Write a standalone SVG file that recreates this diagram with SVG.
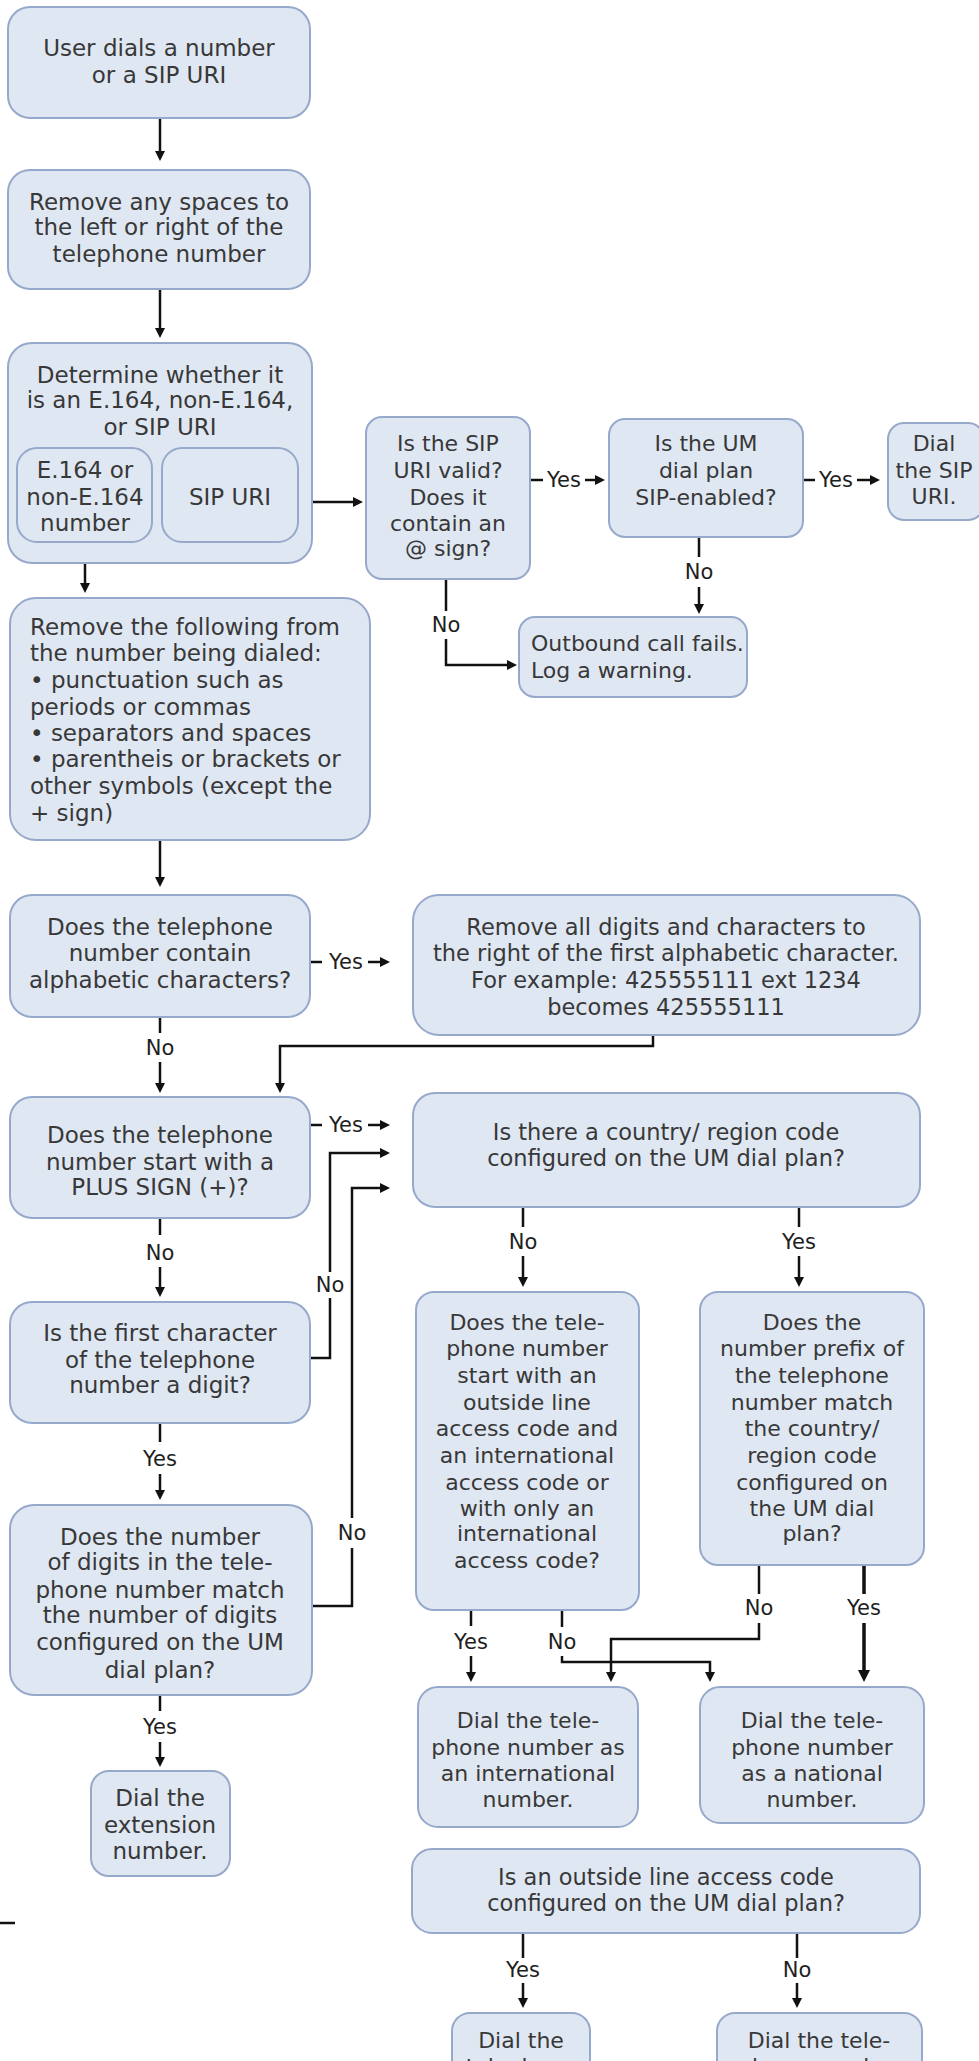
<svg xmlns="http://www.w3.org/2000/svg" width="979" height="2061" viewBox="0 0 979 2061">
  <style>
    .box { fill: #dfe7f3; stroke: #97a9cb; stroke-width: 2; }
    .t { font-family: "DejaVu Sans", Verdana, sans-serif; font-size: 23px; fill: #383838; text-anchor: middle; }
    .r { font-size: 22px; }
    .w { font-size: 22.5px; }
    .lt { text-anchor: start; }
    .lbl { font-family: "DejaVu Sans", Verdana, sans-serif; font-size: 21px; fill: #1e1e1e; text-anchor: middle; }
    .c { fill: none; stroke: #111; stroke-width: 2.5; }
    .cb { fill: none; stroke: #111; stroke-width: 3.5; }
  </style>
  <defs>
    <marker id="ah" viewBox="0 0 10 10" refX="0" refY="5" markerWidth="10" markerHeight="10" markerUnits="userSpaceOnUse" orient="auto">
      <path d="M0,0 L10,5 L0,10 z" fill="#111"/>
    </marker>
    <marker id="ahb" viewBox="0 0 12 12" refX="0" refY="6" markerWidth="12" markerHeight="12" markerUnits="userSpaceOnUse" orient="auto">
      <path d="M0,0 L12,6 L0,12 z" fill="#111"/>
    </marker>
  </defs>
  <rect width="979" height="2061" fill="#ffffff"/>

  <!-- connectors -->
  <g id="connectors">
    <path class="c" d="M160,118 V151" marker-end="url(#ah)"/>
    <path class="c" d="M160,289 V328" marker-end="url(#ah)"/>
    <path class="c" d="M312,502 H353" marker-end="url(#ah)"/>
    <!-- SIP URI valid -> UM dial plan -->
    <path class="c" d="M531,480 H543"/>
    <text class="lbl" x="564" y="487">Yes</text>
    <path class="c" d="M585,480 H595" marker-end="url(#ah)"/>
    <!-- UM dial plan -> dial SIP URI -->
    <path class="c" d="M803,480 H815"/>
    <text class="lbl" x="836" y="487">Yes</text>
    <path class="c" d="M857,480 H870" marker-end="url(#ah)"/>
    <!-- UM dial plan -> call fails -->
    <path class="c" d="M699,537 V557"/>
    <text class="lbl" x="699" y="579">No</text>
    <path class="c" d="M699,587 V604" marker-end="url(#ah)"/>
    <!-- SIP URI invalid -> call fails -->
    <path class="c" d="M446,579 V611"/>
    <text class="lbl" x="446" y="632">No</text>
    <path class="c" d="M446,639 V665 H507" marker-end="url(#ah)"/>
    <!-- number branch -> clean-up -->
    <path class="c" d="M85,542 V583" marker-end="url(#ah)"/>
    <path class="c" d="M160,840 V877" marker-end="url(#ah)"/>
    <!-- alphabetic characters -->
    <path class="c" d="M310,962 H322"/>
    <text class="lbl" x="346" y="969">Yes</text>
    <path class="c" d="M368,962 H380" marker-end="url(#ah)"/>
    <path class="c" d="M653,1035 V1046 H280 V1083" marker-end="url(#ah)"/>
    <path class="c" d="M160,1017 V1033"/>
    <text class="lbl" x="160" y="1055">No</text>
    <path class="c" d="M160,1062 V1083" marker-end="url(#ah)"/>
    <!-- plus sign -->
    <path class="c" d="M310,1125 H322"/>
    <text class="lbl" x="346" y="1132">Yes</text>
    <path class="c" d="M368,1125 H380" marker-end="url(#ah)"/>
    <path class="c" d="M160,1218 V1235"/>
    <text class="lbl" x="160" y="1260">No</text>
    <path class="c" d="M160,1267 V1287" marker-end="url(#ah)"/>
    <!-- first character a digit -->
    <path class="c" d="M310,1358 H330 V1298"/>
    <text class="lbl" x="330" y="1292">No</text>
    <path class="c" d="M330,1272 V1153 H380" marker-end="url(#ah)"/>
    <path class="c" d="M160,1423 V1442"/>
    <text class="lbl" x="160" y="1466">Yes</text>
    <path class="c" d="M160,1474 V1490" marker-end="url(#ah)"/>
    <!-- number of digits -->
    <path class="c" d="M312,1606 H352 V1548"/>
    <text class="lbl" x="352" y="1540">No</text>
    <path class="c" d="M352,1518 V1188 H380" marker-end="url(#ah)"/>
    <path class="c" d="M160,1695 V1711"/>
    <text class="lbl" x="160" y="1734">Yes</text>
    <path class="c" d="M160,1742 V1757" marker-end="url(#ah)"/>
    <!-- country/region code -->
    <path class="c" d="M523,1207 V1227"/>
    <text class="lbl" x="523" y="1249">No</text>
    <path class="c" d="M523,1256 V1277" marker-end="url(#ah)"/>
    <path class="c" d="M799,1207 V1227"/>
    <text class="lbl" x="799" y="1249">Yes</text>
    <path class="c" d="M799,1256 V1277" marker-end="url(#ah)"/>
    <!-- access codes -->
    <path class="c" d="M471,1610 V1626"/>
    <text class="lbl" x="471" y="1649">Yes</text>
    <path class="c" d="M471,1656 V1672" marker-end="url(#ah)"/>
    <path class="c" d="M562,1610 V1627"/>
    <text class="lbl" x="562" y="1649">No</text>
    <path class="c" d="M562,1656 V1662 H710 V1672" marker-end="url(#ah)"/>
    <!-- prefix match -->
    <path class="c" d="M759,1565 V1594"/>
    <text class="lbl" x="759" y="1615">No</text>
    <path class="c" d="M759,1623 V1639 H611 V1672" marker-end="url(#ah)"/>
    <path class="cb" d="M864,1565 V1594"/>
    <text class="lbl" x="864" y="1615">Yes</text>
    <path class="cb" d="M864,1623 V1670" marker-end="url(#ahb)"/>
    <!-- outside line access code -->
    <path class="c" d="M523,1933 V1958"/>
    <text class="lbl" x="523" y="1977">Yes</text>
    <path class="c" d="M523,1983 V1998" marker-end="url(#ah)"/>
    <path class="c" d="M797,1933 V1958"/>
    <text class="lbl" x="797" y="1977">No</text>
    <path class="c" d="M797,1983 V1998" marker-end="url(#ah)"/>
    <path class="c" d="M0,1923 H15"/>
  </g>

  <g id="user-dials">
    <rect class="box" x="8" y="7" width="302" height="111" rx="22"/>
    <text class="t"><tspan x="159" y="56">User dials a number</tspan><tspan x="159" y="83">or a SIP URI</tspan></text>
  </g>
  <g id="remove-spaces">
    <rect class="box" x="8" y="170" width="302" height="119" rx="22"/>
    <text class="t"><tspan x="159" y="210">Remove any spaces to</tspan><tspan x="159" y="235">the left or right of the</tspan><tspan x="159" y="262">telephone number</tspan></text>
  </g>
  <g id="determine-type">
    <rect class="box" x="8" y="343" width="304" height="220" rx="24"/>
    <text class="t"><tspan x="160" y="383">Determine whether it</tspan><tspan x="160" y="408">is an E.164, non-E.164,</tspan><tspan x="160" y="435">or SIP URI</tspan></text>
    <g id="type-number">
      <rect class="box" x="17" y="448" width="135" height="94" rx="20"/>
      <text class="t"><tspan x="85" y="478">E.164 or</tspan><tspan x="85" y="505">non-E.164</tspan><tspan x="85" y="531">number</tspan></text>
    </g>
    <g id="type-sip">
      <rect class="box" x="162" y="448" width="136" height="94" rx="20"/>
      <text class="t" x="230" y="505">SIP URI</text>
    </g>
  </g>
  <g id="sip-valid">
    <rect class="box" x="366" y="417" width="164" height="162" rx="16"/>
    <text class="t r"><tspan x="448" y="451">Is the SIP</tspan><tspan x="448" y="478">URI valid?</tspan><tspan x="448" y="505">Does it</tspan><tspan x="448" y="531">contain an</tspan><tspan x="448" y="556">@ sign?</tspan></text>
  </g>
  <g id="sip-enabled">
    <rect class="box" x="609" y="419" width="194" height="118" rx="16"/>
    <text class="t r"><tspan x="706" y="451">Is the UM</tspan><tspan x="706" y="478">dial plan</tspan><tspan x="706" y="505">SIP-enabled?</tspan></text>
  </g>
  <g id="dial-sip">
    <rect class="box" x="888" y="423" width="96" height="97" rx="16"/>
    <text class="t r"><tspan x="934" y="451">Dial</tspan><tspan x="934" y="478">the SIP</tspan><tspan x="934" y="504">URI.</tspan></text>
  </g>
  <g id="call-fails">
    <rect class="box" x="519" y="617" width="228" height="80" rx="16"/>
    <text class="t r lt"><tspan x="531" y="651">Outbound call fails.</tspan><tspan x="531" y="678">Log a warning.</tspan></text>
  </g>
  <g id="strip-symbols">
    <rect class="box" x="10" y="598" width="360" height="242" rx="26"/>
    <text class="t lt"><tspan x="30" y="635">Remove the following from</tspan><tspan x="30" y="661">the number being dialed:</tspan><tspan x="30" y="688">• punctuation such as</tspan><tspan x="30" y="715">periods or commas</tspan><tspan x="30" y="741">• separators and spaces</tspan><tspan x="30" y="767">• parentheis or brackets or</tspan><tspan x="30" y="794">other symbols (except the</tspan><tspan x="30" y="821">+ sign)</tspan></text>
  </g>
  <g id="has-alpha">
    <rect class="box" x="10" y="895" width="300" height="122" rx="22"/>
    <text class="t"><tspan x="160" y="935">Does the telephone</tspan><tspan x="160" y="961">number contain</tspan><tspan x="160" y="988">alphabetic characters?</tspan></text>
  </g>
  <g id="strip-alpha">
    <rect class="box" x="413" y="895" width="507" height="140" rx="26"/>
    <text class="t w"><tspan x="666" y="935">Remove all digits and characters to</tspan><tspan x="666" y="961">the right of the first alphabetic character.</tspan><tspan x="666" y="988">For example: 425555111 ext 1234</tspan><tspan x="666" y="1015">becomes 425555111</tspan></text>
  </g>
  <g id="plus-sign">
    <rect class="box" x="10" y="1097" width="300" height="121" rx="22"/>
    <text class="t"><tspan x="160" y="1143">Does the telephone</tspan><tspan x="160" y="1170">number start with a</tspan><tspan x="160" y="1195">PLUS SIGN (+)?</tspan></text>
  </g>
  <g id="country-code">
    <rect class="box" x="413" y="1093" width="507" height="114" rx="22"/>
    <text class="t w"><tspan x="666" y="1140">Is there a country/ region code</tspan><tspan x="666" y="1166">configured on the UM dial plan?</tspan></text>
  </g>
  <g id="first-digit">
    <rect class="box" x="10" y="1302" width="300" height="121" rx="22"/>
    <text class="t"><tspan x="160" y="1341">Is the first character</tspan><tspan x="160" y="1368">of the telephone</tspan><tspan x="160" y="1393">number a digit?</tspan></text>
  </g>
  <g id="digit-count">
    <rect class="box" x="10" y="1505" width="302" height="190" rx="24"/>
    <text class="t"><tspan x="160" y="1545">Does the number</tspan><tspan x="160" y="1570">of digits in the tele-</tspan><tspan x="160" y="1598">phone number match</tspan><tspan x="160" y="1623">the number of digits</tspan><tspan x="160" y="1650">configured on the UM</tspan><tspan x="160" y="1678">dial plan?</tspan></text>
  </g>
  <g id="dial-extension">
    <rect class="box" x="91" y="1771" width="139" height="105" rx="18"/>
    <text class="t"><tspan x="160" y="1806">Dial the</tspan><tspan x="160" y="1833">extension</tspan><tspan x="160" y="1859">number.</tspan></text>
  </g>
  <g id="intl-access">
    <rect class="box" x="416" y="1292" width="223" height="318" rx="18"/>
    <text class="t r"><tspan x="527" y="1330">Does the tele-</tspan><tspan x="527" y="1356">phone number</tspan><tspan x="527" y="1383">start with an</tspan><tspan x="527" y="1410">outside line</tspan><tspan x="527" y="1436">access code and</tspan><tspan x="527" y="1463">an international</tspan><tspan x="527" y="1490">access code or</tspan><tspan x="527" y="1516">with only an</tspan><tspan x="527" y="1541">international</tspan><tspan x="527" y="1568">access code?</tspan></text>
  </g>
  <g id="prefix-match">
    <rect class="box" x="700" y="1292" width="224" height="273" rx="18"/>
    <text class="t r"><tspan x="812" y="1330">Does the</tspan><tspan x="812" y="1356">number prefix of</tspan><tspan x="812" y="1383">the telephone</tspan><tspan x="812" y="1410">number match</tspan><tspan x="812" y="1436">the country/</tspan><tspan x="812" y="1463">region code</tspan><tspan x="812" y="1490">configured on</tspan><tspan x="812" y="1516">the UM dial</tspan><tspan x="812" y="1541">plan?</tspan></text>
  </g>
  <g id="dial-international">
    <rect class="box" x="418" y="1687" width="220" height="140" rx="20"/>
    <text class="t r"><tspan x="528" y="1728">Dial the tele-</tspan><tspan x="528" y="1755">phone number as</tspan><tspan x="528" y="1781">an international</tspan><tspan x="528" y="1807">number.</tspan></text>
  </g>
  <g id="dial-national">
    <rect class="box" x="700" y="1687" width="224" height="136" rx="20"/>
    <text class="t r"><tspan x="812" y="1728">Dial the tele-</tspan><tspan x="812" y="1755">phone number</tspan><tspan x="812" y="1781">as a national</tspan><tspan x="812" y="1807">number.</tspan></text>
  </g>
  <g id="outside-line">
    <rect class="box" x="412" y="1849" width="508" height="84" rx="20"/>
    <text class="t w"><tspan x="666" y="1885">Is an outside line access code</tspan><tspan x="666" y="1911">configured on the UM dial plan?</tspan></text>
  </g>
  <g id="dial-with-code">
    <rect class="box" x="452" y="2013" width="138" height="90" rx="18"/>
    <text class="t r"><tspan x="521" y="2048">Dial the</tspan><tspan x="521" y="2074">telephone</tspan></text>
  </g>
  <g id="dial-without-code">
    <rect class="box" x="717" y="2013" width="205" height="90" rx="18"/>
    <text class="t r"><tspan x="819" y="2048">Dial the tele-</tspan><tspan x="819" y="2074">phone number</tspan></text>
  </g>
</svg>
